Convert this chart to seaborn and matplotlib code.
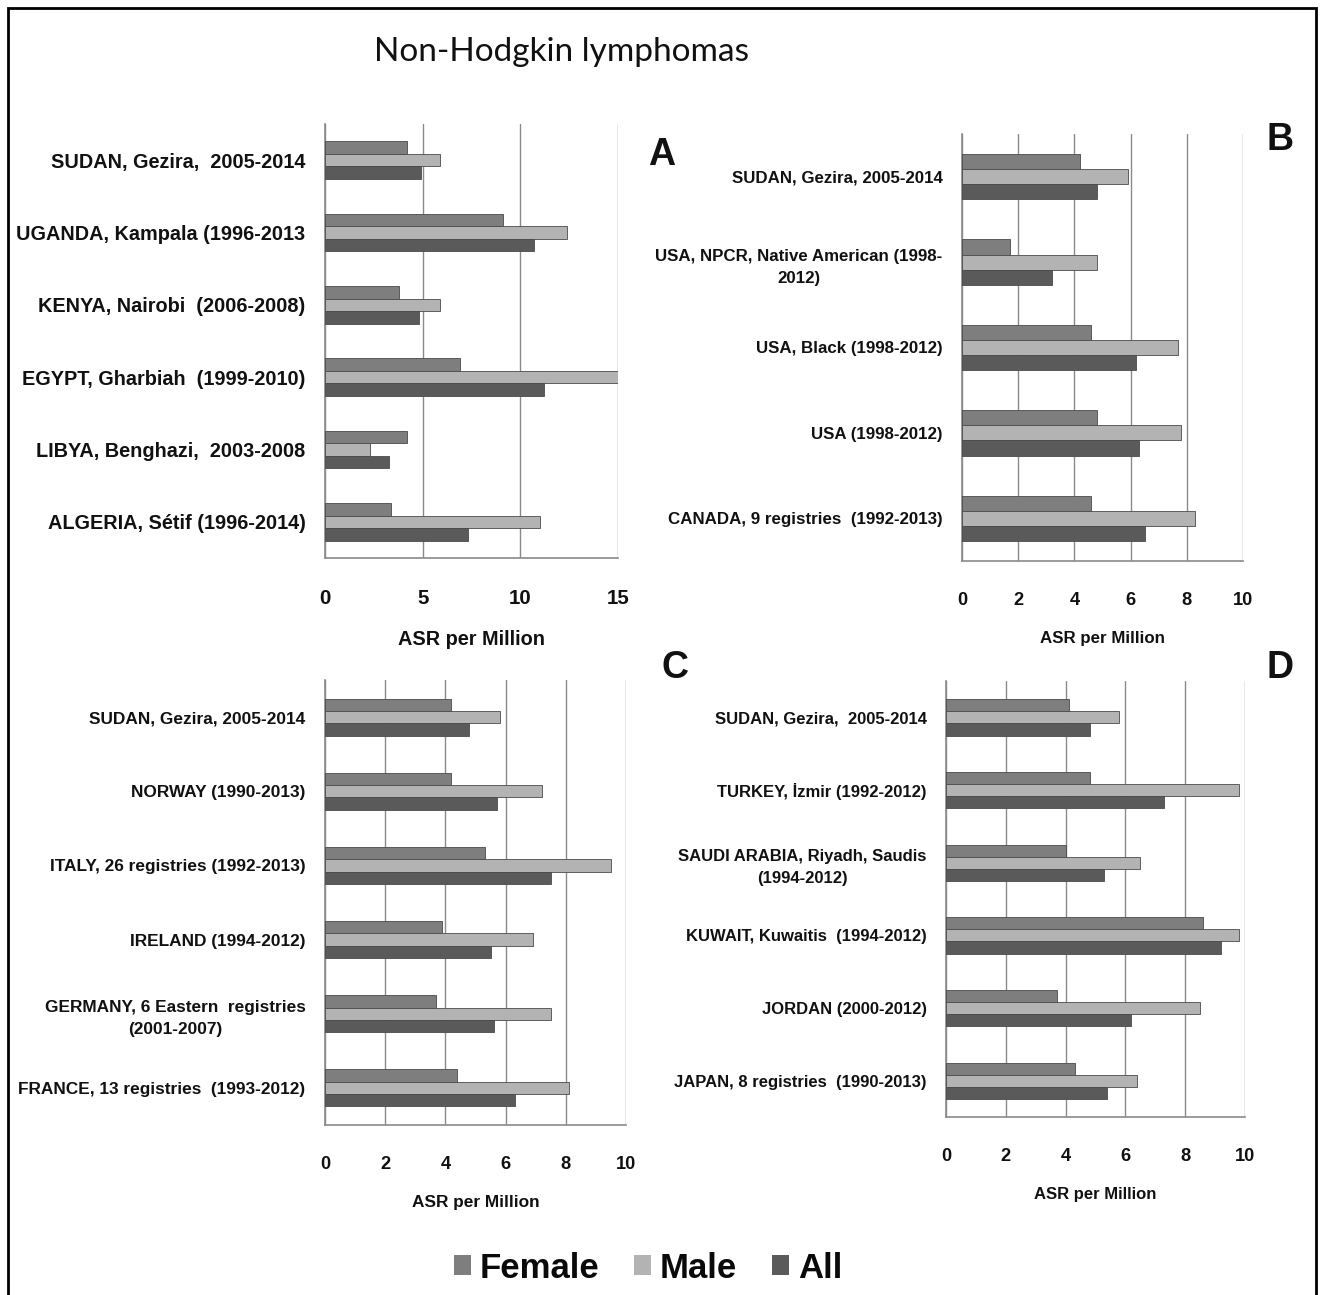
import matplotlib
matplotlib.use("Agg")
import matplotlib.pyplot as plt
import seaborn as sns
import pandas as pd
from matplotlib import font_manager
from matplotlib.patches import Rectangle, Patch

# ---------------- data ----------------
sites_a = ["SUDAN, Gezira,  2005-2014", "UGANDA, Kampala (1996-2013",
           "KENYA, Nairobi  (2006-2008)", "EGYPT, Gharbiah  (1999-2010)",
           "LIBYA, Benghazi,  2003-2008", "ALGERIA, Sétif (1996-2014)"]
female_a = [4.2, 9.1, 3.8, 6.9, 4.2, 3.4]
male_a = [5.9, 12.4, 5.9, 15.2, 2.3, 11.0]
all_a = [4.9, 10.7, 4.8, 11.2, 3.3, 7.3]

sites_b = ["SUDAN, Gezira, 2005-2014", "USA, NPCR, Native American (1998-\n2012)",
           "USA, Black (1998-2012)", "USA (1998-2012)",
           "CANADA, 9 registries  (1992-2013)"]
female_b = [4.2, 1.7, 4.6, 4.8, 4.6]
male_b = [5.9, 4.8, 7.7, 7.8, 8.3]
all_b = [4.8, 3.2, 6.2, 6.3, 6.5]

sites_c = ["SUDAN, Gezira, 2005-2014", "NORWAY (1990-2013)",
           "ITALY, 26 registries (1992-2013)", "IRELAND (1994-2012)",
           "GERMANY, 6 Eastern  registries\n(2001-2007)",
           "FRANCE, 13 registries  (1993-2012)"]
female_c = [4.2, 4.2, 5.3, 3.9, 3.7, 4.4]
male_c = [5.8, 7.2, 9.5, 6.9, 7.5, 8.1]
all_c = [4.8, 5.7, 7.5, 5.5, 5.6, 6.3]

sites_d = ["SUDAN, Gezira,  2005-2014", "TURKEY, İzmir (1992-2012)",
           "SAUDI ARABIA, Riyadh, Saudis\n(1994-2012)",
           "KUWAIT, Kuwaitis  (1994-2012)", "JORDAN (2000-2012)",
           "JAPAN, 8 registries  (1990-2013)"]
female_d = [4.1, 4.8, 4.0, 8.6, 3.7, 4.3]
male_d = [5.8, 9.8, 6.5, 9.8, 8.5, 6.4]
all_d = [4.8, 7.3, 5.3, 9.2, 6.2, 5.4]

sexes = ["Female", "Male", "All"]
colors = ["#7e7e7e", "#b3b3b3", "#5a5a5a"]
xlabel = "ASR per Million"
title = "Non-Hodgkin lymphomas"

# ---------------- fonts ----------------
sns.set_theme(style="white")
names = {f.name for f in font_manager.fontManager.ttflist}
if "Liberation Sans Narrow" in names:
    narrow = "Liberation Sans Narrow"
    scale = 1.0
else:
    narrow = "Liberation Sans"
    scale = 0.82
plt.rcParams["font.family"] = ["Liberation Sans", "DejaVu Sans"]

W, H = 1324, 1295
fig = plt.figure(figsize=(W / 100, H / 100), dpi=100)


def long_df(sites, f, m, a):
    rows = []
    for s, fv, mv, av in zip(sites, f, m, a):
        rows.append((s, "Female", fv))
        rows.append((s, "Male", mv))
        rows.append((s, "All", av))
    return pd.DataFrame(rows, columns=["site", "sex", "value"])


panels = [
    # sites, f, m, a, (left,right,top,bottom px), xmax, xstep, ysize, ticksize, barwidth
    (sites_a, female_a, male_a, all_a, (325, 618, 124, 558), 15, 5, 17.5, 18, 0.52),
    (sites_b, female_b, male_b, all_b, (962, 1243, 134, 561), 10, 2, 14.8, 16, 0.53),
    (sites_c, female_c, male_c, all_c, (325, 626, 680, 1125), 10, 2, 15.2, 16, 0.50),
    (sites_d, female_d, male_d, all_d, (946, 1245, 681, 1117), 10, 2, 14.6, 16, 0.50),
]

for sites, f, m, a, (l, r, t, b), xmax, xstep, ysz, tsz, bw in panels:
    ax = fig.add_axes([l / W, 1 - b / H, (r - l) / W, (b - t) / H])
    df = long_df(sites, f, m, a)
    sns.barplot(data=df, x="value", y="site", hue="sex", hue_order=sexes,
                orient="h", palette=colors, width=bw, ax=ax, legend=False,
                edgecolor="#4a4a4a", linewidth=0.6, saturation=1, zorder=3)
    ax.set_xlim(0, xmax)
    ax.set_xticks(range(0, xmax + 1, xstep))
    ax.set_ylim(len(sites) - 0.5, -0.5)
    ax.grid(axis="x", color="#8a8a8a", linewidth=1.0, zorder=0)
    ax.grid(axis="y", visible=False)
    for sp in ["top", "right"]:
        ax.spines[sp].set_visible(False)
    for sp in ["left", "bottom"]:
        ax.spines[sp].set_color("#8a8a8a")
        ax.spines[sp].set_linewidth(1.2)
    ax.set_ylabel("")
    ax.set_xlabel(xlabel, fontsize=ysz * scale, fontweight="bold",
                  family=narrow, color="#111111", labelpad=16)
    ax.tick_params(axis="x", length=0, pad=22, labelsize=tsz * scale)
    ax.tick_params(axis="y", length=0, pad=14, labelsize=ysz * scale)
    for lab in ax.get_xticklabels():
        lab.set_fontweight("bold")
        lab.set_family(narrow)
        lab.set_color("#111111")
    for lab in ax.get_yticklabels():
        lab.set_fontweight("bold")
        lab.set_family(narrow)
        lab.set_multialignment("center")
        lab.set_linespacing(1.6)
        lab.set_color("#111111")

# title
fig.text(562 / W, 1 - 52 / H, title, ha="center", va="center",
         fontsize=24, family=["Lato", "DejaVu Sans"], color="#111111")

# panel letters
for letter, x, y in [("A", 662, 155), ("B", 1280, 140), ("C", 675, 668), ("D", 1280, 668)]:
    fig.text(x / W, 1 - y / H, letter, ha="center", va="center",
             fontsize=27, fontweight="bold", color="#111111")

# legend
handles = [Patch(facecolor=c, edgecolor="none") for c in colors]
leg = fig.legend(handles, sexes, loc="center", bbox_to_anchor=(648 / W, 1 - 1268 / H),
                 ncol=3, frameon=False, prop={"weight": "heavy", "size": 25},
                 handlelength=0.5, handleheight=0.5, handletextpad=0.25,
                 columnspacing=1.0)
for txt in leg.get_texts():
    txt.set_color("#0a0a0a")

# outer frame
fig.patches.append(Rectangle((8 / W, -0.02), (1316 - 8) / W, 1 - 8 / H + 0.02,
                             transform=fig.transFigure, fill=False,
                             edgecolor="black", linewidth=2))

fig.savefig("out.png", dpi=100)
